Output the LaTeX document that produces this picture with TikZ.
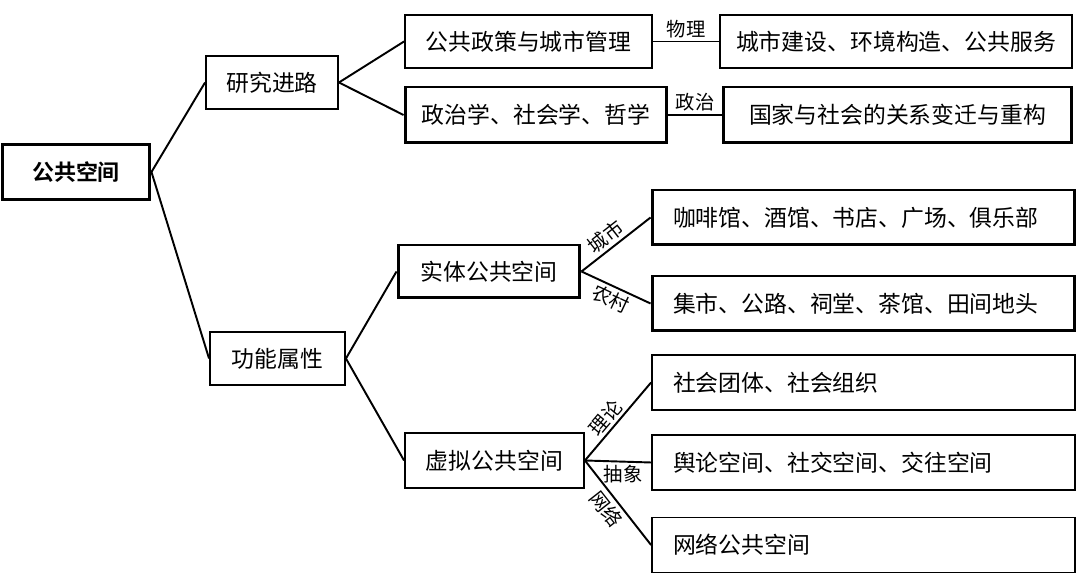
\documentclass[tikz,border=0pt]{standalone}
\usepackage{fontspec}
\setmainfont{Noto Sans CJK SC}[BoldFont={Noto Sans CJK SC Bold}]
\begin{document}
\begin{tikzpicture}[x=0.02cm, y=-0.02cm,
    box/.style={draw, line width=1.1pt, inner sep=0pt, minimum height=1.06cm,
      font=\fontsize{13}{15}\selectfont},
    heavy/.style={line width=1.7pt},
    leaf/.style={box, minimum height=1.1cm, inner xsep=0.42cm, text width=7.62cm, align=left},
    lbl/.style={font=\fontsize{11}{13}\selectfont, inner sep=1.5pt},
    link/.style={line width=1.1pt}]
  \useasboundingbox (0,0) rectangle (1080,573);
  % root and first level
  \node[box, heavy, minimum width=2.96cm, minimum height=1.1cm, font=\fontsize{12.5}{15}\selectfont\bfseries] (pub) at (76,172) {公共空间};
  \node[box, minimum width=2.64cm] (route) at (272,82.5) {研究进路};
  \node[box, minimum width=2.7cm] (func) at (277.5,358.5) {功能属性};
  % research routes
  \node[box, minimum width=4.94cm] (policy) at (528.5,41.5) {公共政策与城市管理};
  \node[box, minimum width=7.04cm] (build) at (896,41.5) {城市建设、环境构造、公共服务};
  \node[box, heavy, minimum width=5.24cm, minimum height=1.12cm] (polit) at (536,115) {政治学、社会学、哲学};
  \node[box, heavy, minimum width=6.98cm, minimum height=1.12cm] (state) at (897.5,115) {国家与社会的关系变迁与重构};
  % functional attributes
  \node[box, heavy, minimum width=3.64cm] (entity) at (489,271.5) {实体公共空间};
  \node[box, minimum width=3.58cm, minimum height=1.1cm] (virtual) at (494.5,460.5) {虚拟公共空间};
  \node[leaf, heavy] (cafe) at (863.5,217.5) {咖啡馆、酒馆、书店、广场、俱乐部};
  \node[leaf, heavy] (market) at (863.5,303.5) {集市、公路、祠堂、茶馆、田间地头};
  \node[leaf] (group) at (863.5,382.5) {社会团体、社会组织};
  \node[leaf] (opinion) at (863.5,462.5) {舆论空间、社交空间、交往空间};
  \node[leaf] (net) at (863.5,545) {网络公共空间};

  \draw[link] (pub.east) -- (route.west);
  \draw[link] (pub.east) -- (func.west);
  \draw[link] (route.east) -- (policy.west);
  \draw[link] (route.east) -- (polit.west);
  \draw[link] (policy) -- node[lbl, above] {物理} (build);
  \draw[link] (polit) -- node[lbl, above] {政治} (state);
  \draw[link] (func.east) -- (entity.west);
  \draw[link] (func.east) -- (virtual.west);
  \draw[link] (entity.east) -- node[lbl, above, sloped, pos=0.46] {城市} (cafe.west);
  \draw[link] (entity.east) -- node[lbl, below, sloped, pos=0.5] {农村} (market.west);
  \draw[link] (virtual.east) -- node[lbl, above, sloped, pos=0.45] {理论} (group.west);
  \draw[link] (virtual.east) -- node[lbl, below, pos=0.58] {抽象} (opinion.west);
  \draw[link] (virtual.east) -- node[lbl, below, sloped, pos=0.48] {网络} (net.west);
\end{tikzpicture}
\end{document}
